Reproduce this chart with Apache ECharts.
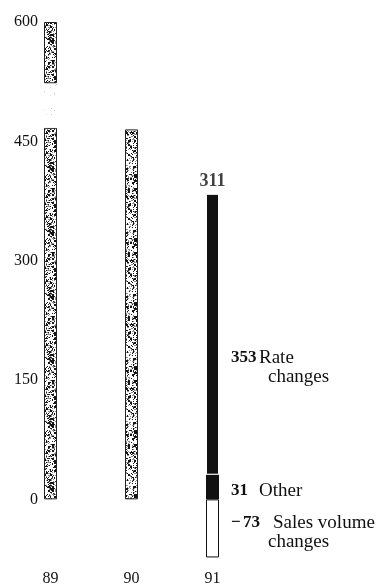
<!DOCTYPE html>
<html>
<head>
<meta charset="utf-8">
<style>
  html, body { margin: 0; padding: 0; background: #fff; }
  #chart { width: 376px; height: 584px; }
</style>
<script src="https://cdn.jsdelivr.net/npm/echarts@6/dist/echarts.min.js"></script>
</head>
<body>
<div id="chart"></div>
<script>
// Years on the category axis
const years = ['89', '90', '91'];
// Earlier years (89 runs past the top of the scale, so its bar is shown broken)
const earlierYears = [600, 465, null];
// Where the 89 bar is interrupted
const breakStart = 467;
const breakEnd = 523;
// Components of the 91 change
const salesVolume = -73;
const other = 31;
const rateChanges = 353;
// Value-axis labels
const yTicks = [0, 150, 300, 450, 600];

const SERIF = '"Liberation Serif", "Times New Roman", serif';
const INK = '#111';

function hash(x, y, seed) {
  let h = Math.sin(x * 12.9898 + y * 78.233 + seed * 37.719) * 43758.5453;
  return h - Math.floor(h);
}

// Deterministic speckled fill for the grey bars: coarse 2px blotches plus fine grain
function speckle(coarse, fine, dark, mid) {
  const size = 64;
  const c = document.createElement('canvas');
  c.width = c.height = size;
  const g = c.getContext('2d');
  const img = g.createImageData(size, size);
  for (let y = 0; y < size; y++) {
    for (let x = 0; x < size; x++) {
      const hc = hash(x >> 1, y >> 1, 1);
      const hf = hash(x, y, 2);
      let v = 255;
      if (hc < coarse) v = dark;
      else if (hf < fine * 0.5) v = dark;
      else if (hf < fine) v = mid;
      const i = (y * size + x) * 4;
      img.data[i] = img.data[i + 1] = img.data[i + 2] = v;
      img.data[i + 3] = 255;
    }
  }
  g.putImageData(img, 0, 0);
  return c;
}
const greyFill = { image: speckle(0.15, 0.32, 20, 140), repeat: 'repeat' };
const faintFill = { image: speckle(0, 0.03, 200, 230), repeat: 'repeat' };

// Split the broken bar into a lower part, the gap and the part above it
const lowerPart = earlierYears.map(v => v == null ? '-' : Math.min(v, breakStart));
const gapPart = earlierYears.map(v => v != null && v > breakEnd ? breakEnd - breakStart : '-');
const upperPart = earlierYears.map(v => v != null && v > breakEnd ? v - breakEnd : '-');

const last = years.length - 1;
const only = val => years.map((_, i) => i === last ? val : '-');
const netChange = salesVolume + other + rateChanges;
const stackTop = other + rateChanges;

const rich = {
  n: { fontFamily: SERIF, fontSize: 17, fontWeight: 'bold', color: INK, width: 28, lineHeight: 19 },
  m: { fontFamily: SERIF, fontSize: 17, fontWeight: 'bold', color: INK, width: 12, lineHeight: 19 },
  n2: { fontFamily: SERIF, fontSize: 17, fontWeight: 'bold', color: INK, width: 30, lineHeight: 19 },
  t: { fontFamily: SERIF, fontSize: 19, color: INK, lineHeight: 19 },
  i: { width: 37, lineHeight: 19 }
};

const barBase = { type: 'bar', stack: 'total', barWidth: 13, clip: false, emphasis: { disabled: true } };

const option = {
  animation: false,
  grid: { left: 10, right: 123, top: 22, bottom: 21, outerBoundsMode: 'none', containLabel: false },
  xAxis: {
    type: 'category',
    data: years,
    axisLine: { show: false },
    axisTick: { show: false },
    axisLabel: { fontFamily: SERIF, fontSize: 16, color: INK, margin: 8 }
  },
  yAxis: {
    type: 'value',
    min: -80,
    max: 600,
    offset: -32,
    splitLine: { show: false },
    axisLine: { show: false },
    axisTick: { show: false },
    axisLabel: {
      customValues: yTicks,
      fontFamily: SERIF, fontSize: 16, color: INK, margin: 4
    }
  },
  series: [
    Object.assign({}, barBase, {
      name: 'lower',
      data: lowerPart,
      itemStyle: { color: greyFill, borderColor: '#222', borderWidth: 1 }
    }),
    Object.assign({}, barBase, {
      name: 'gap',
      data: gapPart,
      itemStyle: { color: faintFill, borderWidth: 0 }
    }),
    Object.assign({}, barBase, {
      name: 'upper',
      data: upperPart,
      itemStyle: { color: greyFill, borderColor: '#222', borderWidth: 1 }
    }),
    Object.assign({}, barBase, {
      name: 'Sales volume changes',
      data: only(salesVolume),
      itemStyle: { color: '#fff', borderColor: INK, borderWidth: 1 },
      label: {
        show: true, position: 'right', distance: 12, offset: [0, 4],
        formatter: p => '{m|\u2212}{n2|' + Math.abs(p.value) + '}{t|Sales volume}\n{i|}{t|changes}',
        rich: rich
      }
    }),
    Object.assign({}, barBase, {
      name: 'Other',
      data: only(other),
      itemStyle: { color: INK, borderWidth: 0 },
      label: {
        show: true, position: 'right', distance: 12, offset: [0, 4],
        formatter: p => '{n|' + p.value + '}{t|Other}',
        rich: rich
      }
    }),
    Object.assign({}, barBase, {
      name: 'Rate changes',
      data: only(rateChanges),
      itemStyle: { color: INK, borderColor: '#fff', borderWidth: 1 },
      label: {
        show: true, position: 'right', distance: 12, offset: [0, 33],
        formatter: p => '{n|' + p.value + '}{t|Rate}\n{i|}{t|changes}',
        rich: rich
      }
    }),
    {
      name: 'net',
      type: 'scatter',
      data: only(stackTop),
      symbolSize: 0,
      silent: true,
      label: {
        show: true, position: 'top', distance: 4,
        formatter: () => String(netChange),
        fontFamily: SERIF, fontSize: 18, fontWeight: 'bold', color: INK
      }
    }
  ]
};

echarts.init(document.getElementById('chart')).setOption(option);
</script>
</body>
</html>
